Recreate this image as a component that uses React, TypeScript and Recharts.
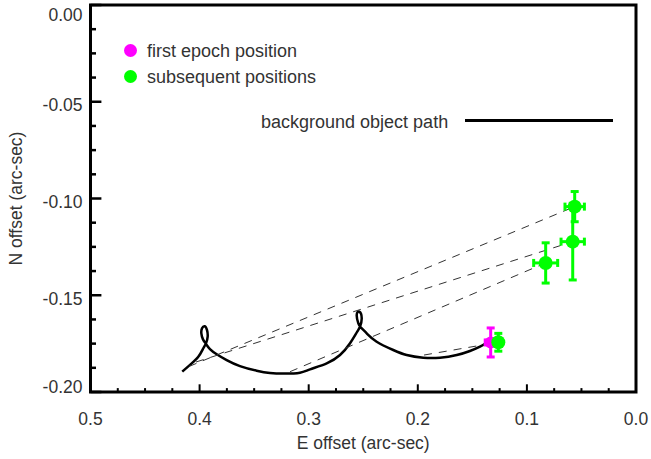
import React from "react";
import {
  ComposedChart,
  Line,
  Scatter,
  XAxis,
  YAxis,
  ErrorBar,
  ReferenceArea,
} from "recharts";

// background object path (E offset, N offset)
const pathX = [
  0.4159, 0.4088, 0.4012, 0.3966, 0.3941, 0.3926, 0.3932, 0.3953, 0.3978, 0.3984,
  0.3969, 0.3941, 0.3905, 0.3843, 0.3752, 0.363, 0.3477, 0.3355, 0.3217, 0.308,
  0.2988, 0.2835, 0.2713, 0.2621, 0.2555, 0.253, 0.2514, 0.2536, 0.256, 0.2545,
  0.2523, 0.2468, 0.2377, 0.2225, 0.2102, 0.195, 0.1797, 0.1643, 0.1522, 0.143,
  0.1366,
];
const pathY = [
  -0.1895, -0.186, -0.1818, -0.1774, -0.1748, -0.1714, -0.168, -0.166, -0.1671, -0.1697,
  -0.1728, -0.1752, -0.1778, -0.1805, -0.1835, -0.1866, -0.189, -0.1902, -0.1905, -0.19,
  -0.1883, -0.1852, -0.1809, -0.1748, -0.1688, -0.1663, -0.1619, -0.1585, -0.1602, -0.1645,
  -0.1666, -0.1697, -0.174, -0.1783, -0.1809, -0.1823, -0.1823, -0.1809, -0.1788, -0.1766,
  -0.1744,
];

const firstX = [0.1332];
const firstY = [-0.1744];
const firstErrX = [0.005];
const firstErrY = [0.0075];

const laterX = [0.1262, 0.0828, 0.058, 0.0562];
const laterY = [-0.1743, -0.1333, -0.1223, -0.1042];
const laterErrX = [0.003, 0.011, 0.0107, 0.0089];
const laterErrY = [0.0046, 0.0104, 0.0198, 0.0078];

// where the background object would sit at each later epoch
const predictedX = [0.1943, 0.3171, 0.4033, 0.4097];
const predictedY = [-0.1809, -0.1895, -0.1845, -0.1868];

const xTicks = [
  0, 0.025, 0.05, 0.075, 0.1, 0.125, 0.15, 0.175, 0.2, 0.225, 0.25, 0.275, 0.3, 0.325,
  0.35, 0.375, 0.4, 0.425, 0.45, 0.475, 0.5,
];
const xMajor = [0, 0.1, 0.2, 0.3, 0.4, 0.5];
const yTicks = [
  -0.2, -0.1875, -0.175, -0.1625, -0.15, -0.1375, -0.125, -0.1125, -0.1, -0.0875, -0.075,
  -0.0625, -0.05, -0.0375, -0.025, -0.0125, 0,
];
const yMajor = [-0.2, -0.15, -0.1, -0.05, 0];

const pathData = pathX.map((x, i) => ({ x, y: pathY[i] }));
const firstData = firstX.map((x, i) => ({ x, y: firstY[i], ex: firstErrX[i], ey: firstErrY[i] }));
const laterData = laterX.map((x, i) => ({ x, y: laterY[i], ex: laterErrX[i], ey: laterErrY[i] }));
const connectors = laterX.map((x, i) => [
  { x: predictedX[i], y: predictedY[i] },
  { x, y: laterY[i] },
]);

const FONT = '"Liberation Sans", Arial, Helvetica, sans-serif';
const TEXT = "#333";
const MAGENTA = "#ff00ff";
const GREEN = "#00ff00";

const isMajor = (v: number, majors: number[]) => majors.some((m) => Math.abs(m - v) < 1e-9);

const BottomTick = (props: any) => {
  const { x, y, payload } = props;
  const major = isMajor(payload.value, xMajor);
  return (
    <g>
      <line x1={x} y1={y} x2={x} y2={y - (major ? 7.7 : 3.9)} stroke="#000" strokeWidth={2} />
      {major && (
        <text x={x} y={y + 27} dy="0.35em" textAnchor="middle" fill={TEXT} fontSize={17.5} fontFamily={FONT}>
          {payload.value.toFixed(1)}
        </text>
      )}
    </g>
  );
};

const TopTick = (props: any) => {
  const { x, y, payload } = props;
  const major = isMajor(payload.value, xMajor);
  return <line x1={x} y1={y} x2={x} y2={y + (major ? 7.7 : 3.9)} stroke="#000" strokeWidth={2} />;
};

const LeftTick = (props: any) => {
  const { x, y, payload } = props;
  const v = payload.value;
  const major = isMajor(v, yMajor);
  // end labels are pulled inside the frame like in the original
  let ly = y + 3.5;
  if (Math.abs(v) < 1e-9) ly = y + 10;
  if (Math.abs(v + 0.2) < 1e-9) ly = y - 5;
  return (
    <g>
      <line x1={x} y1={y} x2={x + (major ? 10.9 : 5.5)} y2={y} stroke="#000" strokeWidth={2.5} />
      {major && (
        <text x={x - 8} y={ly} dy="0.35em" textAnchor="end" fill={TEXT} fontSize={17.5} fontFamily={FONT}>
          {v.toFixed(2)}
        </text>
      )}
    </g>
  );
};

const RightTick = (props: any) => {
  const { x, y, payload } = props;
  const major = isMajor(payload.value, yMajor);
  return <line x1={x} y1={y} x2={x - (major ? 10.9 : 5.5)} y2={y} stroke="#000" strokeWidth={2.5} />;
};

const dot = (color: string, r: number) => (p: any) =>
  <circle cx={p.cx} cy={p.cy} r={r} fill={color} stroke="none" />;

export default function App() {
  return (
    <div
      style={{
        position: "absolute",
        left: 0,
        top: 0,
        width: 651,
        height: 459,
        background: "#fff",
        fontFamily: FONT,
      }}
    >
      <ComposedChart width={651} height={459} margin={{ top: 5, right: 15, bottom: 0, left: 0.5 }}>
        <XAxis
          dataKey="x"
          type="number"
          domain={[0, 0.5]}
          reversed
          ticks={xTicks}
          interval={0}
          tickSize={0}
          tickMargin={0}
          axisLine={false}
          tickLine={false}
          height={67}
          tick={<BottomTick />}
          label={{
            content: (p: any) => {
              const vb = p.viewBox;
              return (
                <text x={vb.x + vb.width / 2} y={vb.y + 51} dy="0.35em" textAnchor="middle" fill={TEXT} fontSize={17.5} fontFamily={FONT}>
                  E offset (arc-sec)
                </text>
              );
            },
          }}
        />
        <XAxis
          xAxisId="top"
          orientation="top"
          dataKey="x"
          type="number"
          domain={[0, 0.5]}
          reversed
          ticks={xTicks}
          interval={0}
          tickSize={0}
          tickMargin={0}
          axisLine={false}
          tickLine={false}
          height={0}
          tick={<TopTick />}
        />
        <YAxis
          dataKey="y"
          type="number"
          domain={[-0.2, 0]}
          ticks={yTicks}
          interval={0}
          tickSize={0}
          tickMargin={0}
          axisLine={false}
          tickLine={false}
          width={90}
          tick={<LeftTick />}
          label={{
            content: (p: any) => {
              const vb = p.viewBox;
              const cx = 16;
              const cy = vb.y + vb.height / 2;
              return (
                <text x={cx} y={cy} dy="0.35em" textAnchor="middle" transform={`rotate(-90 ${cx} ${cy})`} fill={TEXT} fontSize={17.5} fontFamily={FONT}>
                  N offset (arc-sec)
                </text>
              );
            },
          }}
        />
        <YAxis
          yAxisId="right"
          orientation="right"
          dataKey="y"
          type="number"
          domain={[-0.2, 0]}
          ticks={yTicks}
          interval={0}
          tickSize={0}
          tickMargin={0}
          axisLine={false}
          tickLine={false}
          width={0}
          tick={<RightTick />}
        />
        <ReferenceArea x1={0} x2={0.5} y1={-0.2} y2={0} fill="none" stroke="#000" strokeWidth={3} />
        <Line
          data={pathData}
          dataKey="y"
          type="natural"
          stroke="#000"
          strokeWidth={2.5}
          dot={false}
          activeDot={false}
          isAnimationActive={false}
        />
        {connectors.map((seg, i) => (
          <Line
            key={`conn-${i}`}
            data={seg}
            dataKey="y"
            type="linear"
            stroke="#333"
            strokeWidth={1}
            strokeDasharray="8 7"
            dot={false}
            activeDot={false}
            isAnimationActive={false}
          />
        ))}
        <Scatter data={firstData} dataKey="y" shape={dot(MAGENTA, 6)} isAnimationActive={false}>
          <ErrorBar dataKey="ex" direction="x" width={4} stroke={MAGENTA} strokeWidth={3} />
          <ErrorBar dataKey="ey" direction="y" width={4} stroke={MAGENTA} strokeWidth={3} />
        </Scatter>
        <Scatter data={laterData} dataKey="y" shape={dot(GREEN, 7)} isAnimationActive={false}>
          <ErrorBar dataKey="ex" direction="x" width={4} stroke={GREEN} strokeWidth={3} />
          <ErrorBar dataKey="ey" direction="y" width={4} stroke={GREEN} strokeWidth={3} />
        </Scatter>
      </ComposedChart>

      {/* legend */}
      <div style={{ position: "absolute", left: 123.5, top: 44.2, width: 13, height: 13, borderRadius: "50%", background: MAGENTA }} />
      <div style={{ position: "absolute", left: 147, top: 40.7, lineHeight: "20px", fontSize: 18, color: TEXT, whiteSpace: "nowrap" }}>
        first epoch position
      </div>
      <div style={{ position: "absolute", left: 123.5, top: 70.2, width: 13, height: 13, borderRadius: "50%", background: GREEN }} />
      <div style={{ position: "absolute", left: 147, top: 66.7, lineHeight: "20px", fontSize: 18, color: TEXT, whiteSpace: "nowrap" }}>
        subsequent positions
      </div>
      <div style={{ position: "absolute", left: 261, top: 111.7, lineHeight: "20px", fontSize: 18, color: TEXT, whiteSpace: "nowrap" }}>
        background object path
      </div>
      <div style={{ position: "absolute", left: 465, top: 119.4, width: 148, height: 2.7, background: "#000" }} />
    </div>
  );
}
